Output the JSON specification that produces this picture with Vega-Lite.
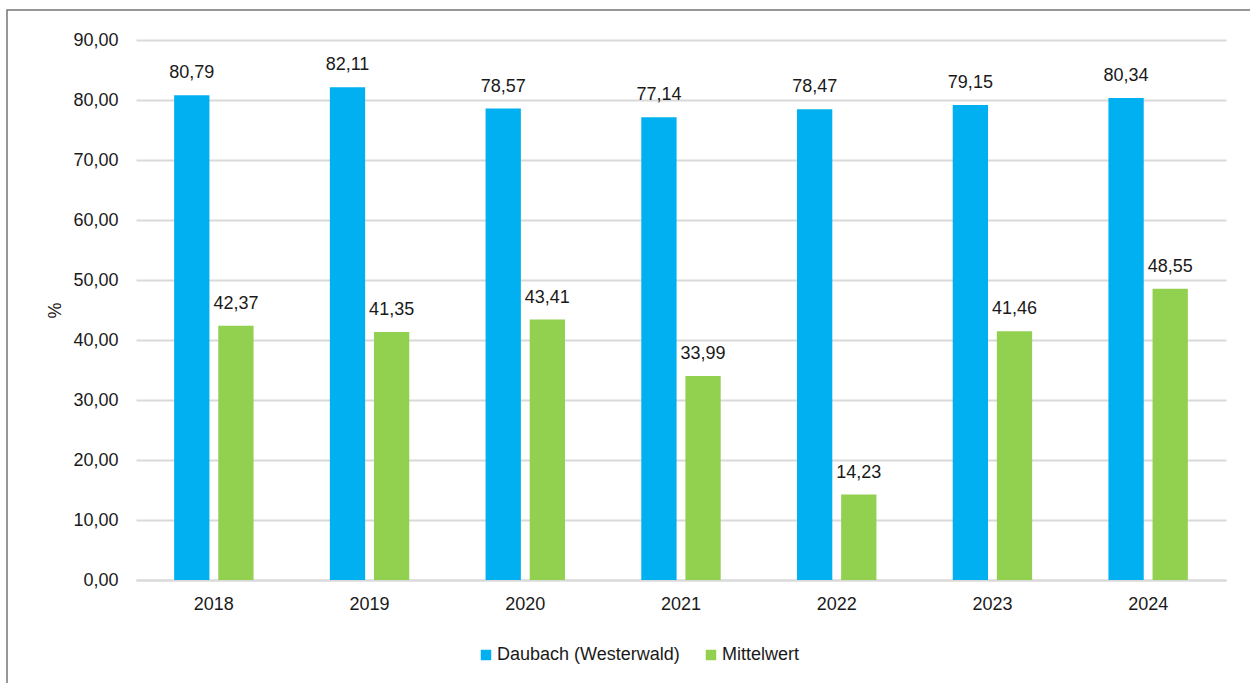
{
  "$schema": "https://vega.github.io/schema/vega-lite/v6.json",
  "autosize": {"type": "none"},
  "padding": {"left": 7, "top": 10, "right": 0, "bottom": 0},
  "width": 1260,
  "height": 690,
  "background": "white",
  "config": {
    "locale": {"number": {"decimal": ",", "thousands": ".", "grouping": [3], "currency": ["", " €"]}},
    "view": {"stroke": "#767676", "strokeWidth": 1.5},
    "font": "Liberation Sans",
    "axis": {"labelFont": "Liberation Sans", "labelFontSize": 18, "labelColor": "#1a1a1a", "titleFont": "Liberation Sans", "titleFontSize": 18, "titleColor": "#1a1a1a", "titleFontWeight": "normal"},
    "legend": {"labelFont": "Liberation Sans", "labelFontSize": 18, "labelColor": "#1a1a1a", "labelLimit": 0}
  },
  "data": {
    "values": [
      {"year": "2018", "series": "Daubach (Westerwald)", "value": 80.79},
      {"year": "2018", "series": "Mittelwert", "value": 42.37},
      {"year": "2019", "series": "Daubach (Westerwald)", "value": 82.11},
      {"year": "2019", "series": "Mittelwert", "value": 41.35},
      {"year": "2020", "series": "Daubach (Westerwald)", "value": 78.57},
      {"year": "2020", "series": "Mittelwert", "value": 43.41},
      {"year": "2021", "series": "Daubach (Westerwald)", "value": 77.14},
      {"year": "2021", "series": "Mittelwert", "value": 33.99},
      {"year": "2022", "series": "Daubach (Westerwald)", "value": 78.47},
      {"year": "2022", "series": "Mittelwert", "value": 14.23},
      {"year": "2023", "series": "Daubach (Westerwald)", "value": 79.15},
      {"year": "2023", "series": "Mittelwert", "value": 41.46},
      {"year": "2024", "series": "Daubach (Westerwald)", "value": 80.34},
      {"year": "2024", "series": "Mittelwert", "value": 48.55}
    ]
  },
  "encoding": {
    "x": {
      "field": "year", "type": "nominal",
      "scale": {"range": [129, 1219], "paddingInner": 0.49, "paddingOuter": 0.245},
      "axis": {"orient": "bottom", "offset": -120, "title": null, "labelAngle": 0, "ticks": false, "domainColor": "#d9d9d9", "domainWidth": 2, "labelPadding": 15, "grid": false}
    },
    "xOffset": {
      "field": "series", "type": "nominal",
      "scale": {"paddingInner": 0.2, "paddingOuter": 0}
    },
    "y": {
      "field": "value", "type": "quantitative",
      "scale": {"domain": [0, 90], "nice": false, "range": [570, 30]},
      "axis": {"offset": -129, "title": "%", "format": ".2f", "values": [0, 10, 20, 30, 40, 50, 60, 70, 80, 90], "ticks": false, "domain": false, "gridColor": "#d9d9d9", "gridWidth": 2, "labelPadding": 18, "titlePadding": 8}
    }
  },
  "layer": [
    {
      "mark": {"type": "bar"},
      "encoding": {
        "color": {
          "field": "series", "type": "nominal",
          "scale": {"domain": ["Daubach (Westerwald)", "Mittelwert"], "range": ["#00B0F0", "#92D050"]},
          "legend": {"title": null, "orient": "none", "direction": "horizontal", "legendX": 470, "legendY": 636, "symbolType": "square", "symbolSize": 110, "symbolStrokeWidth": 0, "labelOffset": 2, "columnPadding": 22}
        }
      }
    },
    {
      "mark": {"type": "text", "baseline": "alphabetic", "dy": -17, "fontSize": 18, "color": "#1a1a1a", "font": "Liberation Sans"},
      "encoding": {
        "text": {"field": "value", "type": "quantitative", "format": ".2f"}
      }
    }
  ]
}
